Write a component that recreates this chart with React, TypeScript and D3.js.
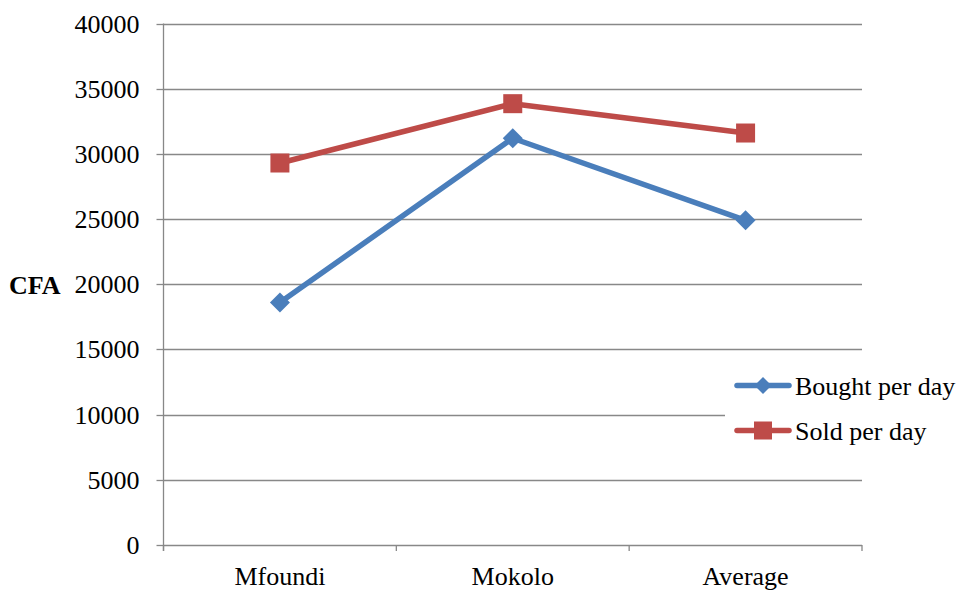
import React from "react";
import * as d3 from "d3";

// Daily amounts in CFA per market
const categories = ["Mfoundi", "Mokolo", "Average"];
const boughtPerDay = [18600, 31200, 24900];
const soldPerDay = [29300, 33850, 31600];
const yTicks = [0, 5000, 10000, 15000, 20000, 25000, 30000, 35000, 40000];
const seriesNames = ["Bought per day", "Sold per day"];

const W = 963;
const H = 592;
const plot = { left: 163.5, right: 862, top: 23.5, bottom: 545 };
const BLUE = "#4a7ebb";
const RED = "#be4b48";
const GRID = "#888888";
const FONT = "'Liberation Serif', 'Times New Roman', serif";
const FS = 26;

export default function App() {
  const x = d3
    .scaleBand<string>()
    .domain(categories)
    .range([plot.left, plot.right])
    .padding(0);
  const cx = (c: string) => (x(c) as number) + x.bandwidth() / 2;
  const y = d3.scaleLinear().domain([0, 40000]).range([plot.bottom, plot.top]);

  const line = d3
    .line<number>()
    .x((_, i) => cx(categories[i]))
    .y((v) => y(v));

  const boundaries = [...categories.map((c) => x(c) as number), plot.right];

  const legend = { x: 725, y: 362, w: 238, h: 92 };
  const legendRows = [
    { name: seriesNames[0], color: BLUE, marker: "diamond", y: 385.5 },
    { name: seriesNames[1], color: RED, marker: "square", y: 430.5 },
  ];

  const diamond = (px: number, py: number, r: number) =>
    `M${px},${py - r}L${px + r},${py}L${px},${py + r}L${px - r},${py}Z`;

  return (
    <svg
      width={W}
      height={H}
      style={{ position: "absolute", left: 0, top: 0, background: "#fff" }}
      fontFamily={FONT}
    >
      {/* horizontal gridlines */}
      {yTicks.map((t) => (
        <line
          key={"g" + t}
          x1={plot.left}
          x2={plot.right}
          y1={Math.round(y(t)) + 0.5}
          y2={Math.round(y(t)) + 0.5}
          stroke={GRID}
          strokeWidth={1.3}
        />
      ))}
      {/* y axis with ticks and labels */}
      <line
        x1={plot.left}
        x2={plot.left}
        y1={plot.top}
        y2={plot.bottom + 6}
        stroke={GRID}
        strokeWidth={1.3}
      />
      {yTicks.map((t) => (
        <g key={"t" + t}>
          <line
            x1={plot.left - 7}
            x2={plot.left}
            y1={Math.round(y(t)) + 0.5}
            y2={Math.round(y(t)) + 0.5}
            stroke={GRID}
            strokeWidth={1.3}
          />
          <text
            x={139.5}
            y={y(t) + 9}
            textAnchor="end"
            fontSize={FS}
            fill="#000"
          >
            {t}
          </text>
        </g>
      ))}
      {/* x axis tick marks at category boundaries */}
      {boundaries.map((b, i) => (
        <line
          key={"xb" + i}
          x1={b}
          x2={b}
          y1={plot.bottom}
          y2={plot.bottom + 6}
          stroke={GRID}
          strokeWidth={1.3}
        />
      ))}
      {categories.map((c) => (
        <text
          key={"c" + c}
          x={cx(c)}
          y={585}
          textAnchor="middle"
          fontSize={FS}
          fill="#000"
        >
          {c}
        </text>
      ))}
      <text x={9} y={294} fontSize={FS} fontWeight="bold" fill="#000">
        CFA
      </text>

      {/* series lines */}
      <path
        d={line(boughtPerDay) || ""}
        fill="none"
        stroke={BLUE}
        strokeWidth={5.5}
        strokeLinejoin="round"
        strokeLinecap="round"
      />
      <path
        d={line(soldPerDay) || ""}
        fill="none"
        stroke={RED}
        strokeWidth={5.5}
        strokeLinejoin="round"
        strokeLinecap="round"
      />
      {boughtPerDay.map((v, i) => (
        <path
          key={"bm" + i}
          d={diamond(cx(categories[i]), y(v), 10)}
          fill={BLUE}
        />
      ))}
      {soldPerDay.map((v, i) => (
        <rect
          key={"sm" + i}
          x={cx(categories[i]) - 9.5}
          y={y(v) - 9.5}
          width={19}
          height={19}
          fill={RED}
        />
      ))}

      {/* legend */}
      <rect
        x={legend.x}
        y={legend.y}
        width={legend.w}
        height={legend.h}
        fill="#fff"
      />
      {legendRows.map((r) => (
        <g key={r.name}>
          <line
            x1={737}
            x2={789}
            y1={r.y}
            y2={r.y}
            stroke={r.color}
            strokeWidth={5.5}
            strokeLinecap="round"
          />
          {r.marker === "diamond" ? (
            <path d={diamond(763, r.y, 8.5)} fill={r.color} />
          ) : (
            <rect x={754} y={r.y - 9} width={18} height={18} fill={r.color} />
          )}
          <text x={795} y={r.y + 9} fontSize={FS} fill="#000">
            {r.name}
          </text>
        </g>
      ))}
    </svg>
  );
}
